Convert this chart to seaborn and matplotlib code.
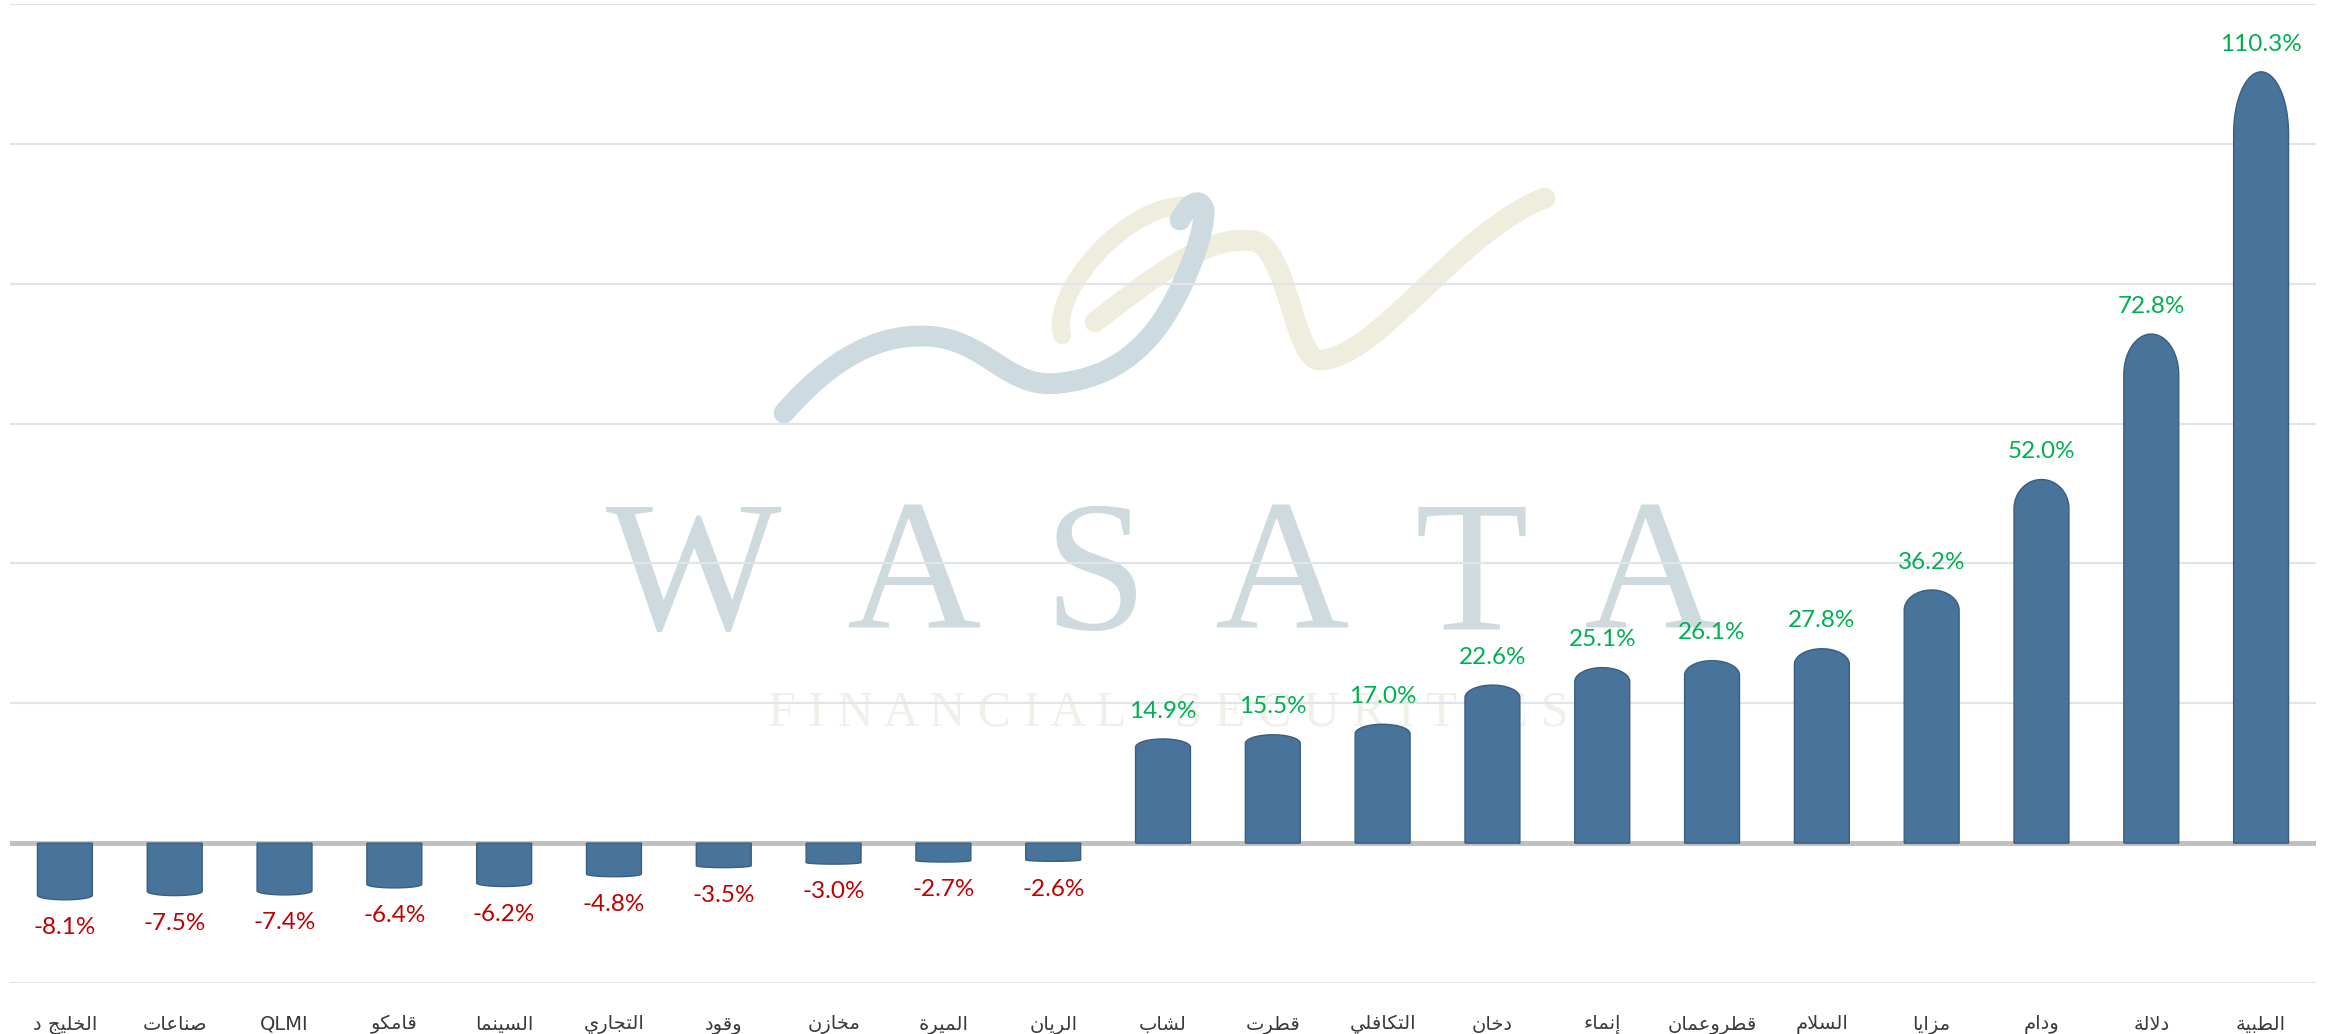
import numpy as np
import pandas as pd
import matplotlib
matplotlib.use('Agg')
import matplotlib.pyplot as plt
from matplotlib.path import Path
from matplotlib.patches import PathPatch
import seaborn as sns

# data (left to right as in the picture)
names = ['الخليج د', 'صناعات', 'QLMI', 'قامكو', 'السينما', 'التجاري', 'وقود', 'مخازن',
         'الميرة', 'الريان', 'لشاب', 'قطرت', 'التكافلي', 'دخان', 'إنماء', 'قطروعمان',
         'السلام', 'مزايا', 'ودام', 'دلالة', 'الطبية']
changes = [-8.1, -7.5, -7.4, -6.4, -6.2, -4.8, -3.5, -3.0, -2.7, -2.6, 14.9, 15.5,
           17.0, 22.6, 25.1, 26.1, 27.8, 36.2, 52.0, 72.8, 110.3]
y_ticks = [-20, 0, 20, 40, 60, 80, 100, 120]

BAR = '#48739a'
EDGE = '#3a5e80'
GREEN = '#00b050'
RED = '#c00000'

# matplotlib does not shape arabic, so map letters to presentation forms
DUAL = {'ئ': 0xFE89, 'ب': 0xFE8F, 'ت': 0xFE95, 'ث': 0xFE99, 'ج': 0xFE9D, 'ح': 0xFEA1,
        'خ': 0xFEA5, 'س': 0xFEB1, 'ش': 0xFEB5, 'ص': 0xFEB9, 'ض': 0xFEBD, 'ط': 0xFEC1,
        'ظ': 0xFEC5, 'ع': 0xFEC9, 'غ': 0xFECD, 'ف': 0xFED1, 'ق': 0xFED5, 'ك': 0xFED9,
        'ل': 0xFEDD, 'م': 0xFEE1, 'ن': 0xFEE5, 'ه': 0xFEE9, 'ي': 0xFEF1}
RIGHT = {'آ': 0xFE81, 'أ': 0xFE83, 'ؤ': 0xFE85, 'إ': 0xFE87, 'ا': 0xFE8D, 'ة': 0xFE93,
         'د': 0xFEA9, 'ذ': 0xFEAB, 'ر': 0xFEAD, 'ز': 0xFEAF, 'و': 0xFEED, 'ى': 0xFEEF}
LAMALEF = {'آ': 0xFEF5, 'أ': 0xFEF7, 'إ': 0xFEF9, 'ا': 0xFEFB}


def shape_ar(s):
    if not any('\u0600' <= c <= '\u06ff' for c in s):
        return s
    units = []
    i = 0
    while i < len(s):
        c = s[i]
        if c == 'ل' and i + 1 < len(s) and s[i + 1] in LAMALEF:
            units.append((LAMALEF[s[i + 1]], 'R'))
            i += 2
            continue
        if c in DUAL:
            units.append((DUAL[c], 'D'))
        elif c == 'ء':
            units.append((0xFE80, 'N'))
        elif c in RIGHT:
            units.append((RIGHT[c], 'R'))
        else:
            units.append((c, None))
        i += 1
    out = []
    for k, (b, t) in enumerate(units):
        if t is None:
            out.append(b)
            continue
        prev = units[k - 1][1] if k > 0 else None
        nxt = units[k + 1][1] if k + 1 < len(units) else None
        jp = prev == 'D' and t != 'N'
        jn = t == 'D' and nxt in ('D', 'R')
        off = 3 if (jp and jn) else 1 if jp else 2 if jn else 0
        out.append(chr(b + off))
    return ''.join(out)[::-1]


sns.set_theme(style="white")
plt.rcParams['font.family'] = ['Lato', 'DejaVu Sans']

W, H = 2336, 1034
fig = plt.figure(figsize=(W / 100, H / 100), dpi=100)

# watermark layer (pixel coords)
bg = fig.add_axes([0, 0, 1, 1], zorder=0)
bg.set_xlim(0, W)
bg.set_ylim(H, 0)
bg.axis('off')

blue = Path([(784, 413), (830, 360), (880, 330), (937, 337),
             (990, 345), (1010, 390), (1060, 383),
             (1110, 378), (1145, 350), (1167, 313),
             (1190, 275), (1205, 230), (1204, 210),
             (1200, 196), (1188, 204), (1180, 220)],
            [Path.MOVETO] + [Path.CURVE4] * 15)
beige1 = Path([(1062, 335), (1050, 290), (1130, 200), (1190, 206)],
              [Path.MOVETO] + [Path.CURVE4] * 3)
beige2 = Path([(1095, 322), (1150, 280), (1210, 230), (1258, 242),
               (1290, 260), (1295, 365), (1322, 360),
               (1380, 355), (1460, 230), (1545, 198)],
              [Path.MOVETO] + [Path.CURVE4] * 9)
bg.add_patch(PathPatch(beige1, fill=False, edgecolor='#eeedde', lw=13, capstyle='round'))
bg.add_patch(PathPatch(beige2, fill=False, edgecolor='#eeedde', lw=15, capstyle='round'))
bg.add_patch(PathPatch(blue, fill=False, edgecolor='#cddadf', lw=15, capstyle='round'))

for x_pos, letter in zip([694, 913, 1095, 1281, 1471, 1650], 'WASATA'):
    bg.text(x_pos, 584, letter, fontsize=134, color='#cfdadf', ha='center', va='center',
            family='Liberation Serif')
bg.text(1168, 713, 'F I N A N C I A L    S E C U R I T I E S', fontsize=36, color='#f1f0e8',
        ha='center', va='center', family='Liberation Serif')

# main chart
ax = fig.add_axes([10 / W, 51 / H, 2306 / W, 979 / H], zorder=1)
ax.patch.set_alpha(0)

df = pd.DataFrame({'name': names, 'change': changes})
sns.barplot(data=df, x='name', y='change', color=BAR, width=0.5, ax=ax, zorder=3)

# turn flat bars into rounded cylinders
for p in list(ax.patches):
    x0, w, h = p.get_x(), p.get_width(), p.get_height()
    p.remove()
    sgn = np.sign(h)
    c = abs(h) * 0.08
    t = np.linspace(0, np.pi, 50)
    cap_x = x0 + w / 2 + (w / 2) * np.cos(t)
    cap_y = (h - sgn * c) + sgn * c * np.sin(t)
    verts = [(x0, 0), (x0 + w, 0)] + list(zip(cap_x, cap_y)) + [(x0, 0)]
    ax.add_patch(PathPatch(Path(verts), facecolor=BAR, edgecolor=EDGE, lw=1, zorder=3))

for i, v in enumerate(changes):
    ax.annotate(f'{v:.1f}%', (i, v), xytext=(0, 20 if v > 0 else -20), textcoords='offset points',
                ha='center', va='center', fontsize=17.5, color=GREEN if v > 0 else RED)

ax.set_xlim(-0.5, len(names) - 0.5)
ax.set_ylim(y_ticks[0], y_ticks[-1])
ax.set_yticks(y_ticks)
ax.set_yticklabels([])
ax.yaxis.grid(True, color='#e1e5ea', lw=1.6, zorder=0)
ax.axhline(0, color='#bfbfbf', lw=3.5, zorder=2)
ax.set_xticks(range(len(names)))
ax.set_xticklabels([shape_ar(n) for n in names], fontsize=14, color='#3a3a3a', family='DejaVu Sans')
ax.tick_params(axis='both', length=0)
ax.tick_params(axis='x', pad=23)
ax.set_xlabel('')
ax.set_ylabel('')
for s in ax.spines.values():
    s.set_visible(False)

fig.savefig('out.png', dpi=100, facecolor='white')
plt.close()
